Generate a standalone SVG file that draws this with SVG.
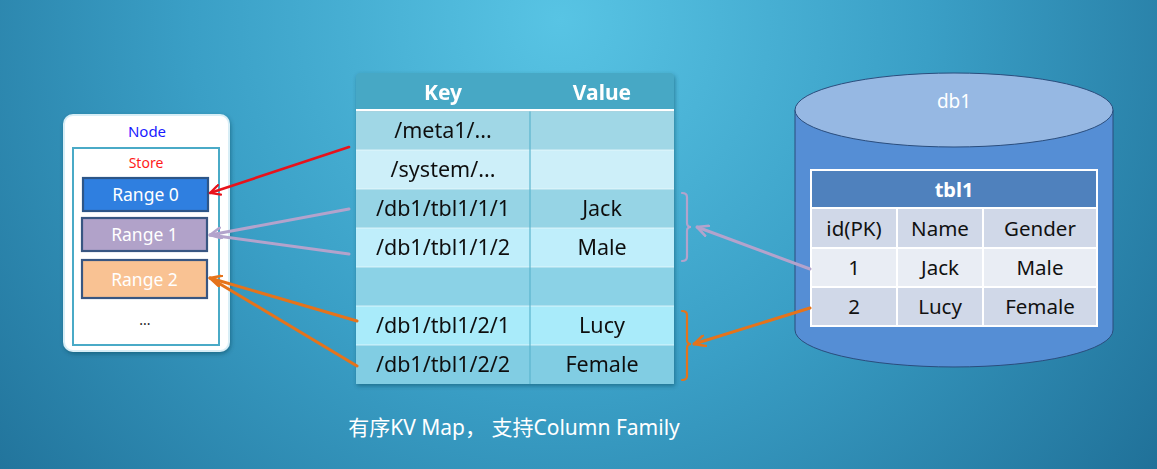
<svg xmlns="http://www.w3.org/2000/svg" width="1157" height="469" viewBox="0 0 1157 469">
<defs>
<radialGradient id="bg" cx="560" cy="20" r="820" gradientUnits="userSpaceOnUse">
<stop offset="0" stop-color="#58c4e4"/>
<stop offset="0.45" stop-color="#3a9fc6"/>
<stop offset="1" stop-color="#1b6890"/>
</radialGradient>
<filter id="sh" x="-10%" y="-10%" width="130%" height="130%">
<feDropShadow dx="1" dy="2" stdDeviation="2" flood-color="#0b3850" flood-opacity="0.45"/>
</filter>
<marker id="mr" viewBox="0 0 12 12" refX="11" refY="6" markerWidth="12" markerHeight="12" markerUnits="userSpaceOnUse" orient="auto">
<path d="M1,1 L11,6 L1,11" fill="none" stroke="#e8121b" stroke-width="2.2" stroke-linecap="round" stroke-linejoin="round"/>
</marker>
<marker id="mp" viewBox="0 0 12 12" refX="11" refY="6" markerWidth="13" markerHeight="13" markerUnits="userSpaceOnUse" orient="auto">
<path d="M1,1 L11,6 L1,11" fill="none" stroke="#b3a3cc" stroke-width="2.4" stroke-linecap="round" stroke-linejoin="round"/>
</marker>
<marker id="mo" viewBox="0 0 12 12" refX="11" refY="6" markerWidth="13" markerHeight="13" markerUnits="userSpaceOnUse" orient="auto">
<path d="M1,1 L11,6 L1,11" fill="none" stroke="#e5731b" stroke-width="2.4" stroke-linecap="round" stroke-linejoin="round"/>
</marker>
</defs>
<style>
text{font-family:"Noto Sans","Open Sans","Liberation Sans",sans-serif;text-anchor:middle}
.kv{font-size:21.5px;fill:#111}
.hd{font-size:21px;font-weight:bold;fill:#fff}
.rg{font-size:17.5px;fill:#fff}
.tb{font-size:20.5px;fill:#111}
.sep{stroke:#e8f7fc;stroke-width:1.2;opacity:0.8}
.col{stroke:#5bb4cd;stroke-width:1.2}
.rng{stroke-width:2.2}
.conn{fill:none;stroke-linecap:round}
</style>
<rect x="0" y="0" width="1157" height="469" fill="url(#bg)"/>

<g id="node">
<rect x="64" y="115" width="165" height="236" rx="9" fill="#fff" stroke="#d8eef6" stroke-width="2" filter="url(#sh)"/>
<text x="147" y="137" style="font-size:15px;fill:#1a1aff">Node</text>
<rect x="73" y="148" width="146" height="197" fill="#fff" stroke="#4aaac7" stroke-width="2"/>
<text x="146" y="168" style="font-size:14px;fill:#ff1a1a">Store</text>
<g id="range0">
<rect class="rng" x="83" y="178" width="125" height="33" fill="#2f7fe0" stroke="#2d5688"/>
<text class="rg" x="145.5" y="201">Range 0</text>
</g>
<g id="range1">
<rect class="rng" x="82" y="218" width="125" height="33" fill="#b1a2c9" stroke="#385682"/>
<text class="rg" x="144.5" y="241">Range 1</text>
</g>
<g id="range2">
<rect class="rng" x="82" y="260" width="125" height="38" fill="#f9c293" stroke="#385682"/>
<text class="rg" x="144.5" y="286">Range 2</text>
</g>
<text x="145" y="325" style="font-size:14px;fill:#222">...</text>
</g>

<g id="kvtable" filter="url(#sh)">
<path d="M356,77 Q356,73 360,73 L670,73 Q674,73 674,77 L674,109 L356,109 Z" fill="#47a8c5"/>
<rect x="356" y="109" width="318" height="2.5" fill="#ffffff"/>
<rect x="356" y="111.5" width="318" height="38.5" fill="#a0d7e6"/>
<rect x="356" y="150" width="318" height="39" fill="#cdeff9"/>
<rect x="356" y="189" width="318" height="39" fill="#96d4e5"/>
<rect x="356" y="228" width="318" height="39" fill="#bfeefb"/>
<rect x="356" y="267" width="318" height="39" fill="#8bd2e6"/>
<rect x="356" y="306" width="318" height="39" fill="#a9ebfa"/>
<rect x="356" y="345" width="318" height="39" fill="#81cde3"/>
<line class="sep" x1="356" y1="150" x2="674" y2="150"/>
<line class="sep" x1="356" y1="189" x2="674" y2="189"/>
<line class="sep" x1="356" y1="228" x2="674" y2="228"/>
<line class="sep" x1="356" y1="267" x2="674" y2="267"/>
<line class="sep" x1="356" y1="306" x2="674" y2="306"/>
<line class="sep" x1="356" y1="345" x2="674" y2="345"/>
<line class="col" x1="530" y1="111.5" x2="530" y2="384"/>
<text class="hd" x="443" y="100">Key</text>
<text class="hd" x="602" y="100">Value</text>
<text class="kv" x="443" y="138">/meta1/...</text>
<text class="kv" x="443" y="177">/system/...</text>
<text class="kv" x="443" y="216">/db1/tbl1/1/1</text>
<text class="kv" x="602" y="216">Jack</text>
<text class="kv" x="443" y="255">/db1/tbl1/1/2</text>
<text class="kv" x="602" y="255">Male</text>
<text class="kv" x="443" y="333">/db1/tbl1/2/1</text>
<text class="kv" x="602" y="333">Lucy</text>
<text class="kv" x="443" y="372">/db1/tbl1/2/2</text>
<text class="kv" x="602" y="372">Female</text>
</g>

<g id="db1">
<path d="M795,110 L795,330 A159,37 0 0 0 1113,330 L1113,110 Z" fill="#558ed5" stroke="#2a4d7d" stroke-width="1"/>
<ellipse cx="954" cy="110" rx="159" ry="37" fill="#96b8e3" stroke="#2a4d7d" stroke-width="1"/>
<text x="954" y="108" style="font-size:19px;fill:#fff">db1</text>
</g>

<g id="tbl1">
<rect x="810" y="169" width="288" height="158" fill="#ffffff"/>
<rect x="812" y="171" width="284" height="36" fill="#4f81bd"/>
<rect x="812" y="209" width="84" height="38" fill="#d0d8e8"/>
<rect x="898" y="209" width="84" height="38" fill="#d0d8e8"/>
<rect x="984" y="209" width="112" height="38" fill="#d0d8e8"/>
<rect x="812" y="249" width="84" height="37" fill="#e9edf4"/>
<rect x="898" y="249" width="84" height="37" fill="#e9edf4"/>
<rect x="984" y="249" width="112" height="37" fill="#e9edf4"/>
<rect x="812" y="288" width="84" height="37" fill="#d0d8e8"/>
<rect x="898" y="288" width="84" height="37" fill="#d0d8e8"/>
<rect x="984" y="288" width="112" height="37" fill="#d0d8e8"/>
<text x="954" y="197" style="font-size:20px;font-weight:bold;fill:#fff">tbl1</text>
<text class="tb" x="854" y="236">id(PK)</text>
<text class="tb" x="940" y="236">Name</text>
<text class="tb" x="1040" y="236">Gender</text>
<text class="tb" x="854" y="275">1</text>
<text class="tb" x="940" y="275">Jack</text>
<text class="tb" x="1040" y="275">Male</text>
<text class="tb" x="854" y="314">2</text>
<text class="tb" x="940" y="314">Lucy</text>
<text class="tb" x="1040" y="314">Female</text>
</g>

<g id="connectors">
<line class="conn" x1="349" y1="147" x2="210" y2="193" stroke="#e8121b" stroke-width="2.6" marker-end="url(#mr)"/>
<line class="conn" x1="349" y1="209" x2="210" y2="235" stroke="#b3a3cc" stroke-width="3" marker-end="url(#mp)"/>
<line class="conn" x1="349" y1="254" x2="210" y2="235" stroke="#b3a3cc" stroke-width="3"/>
<line class="conn" x1="357" y1="321" x2="210" y2="278" stroke="#e5731b" stroke-width="3" marker-end="url(#mo)"/>
<line class="conn" x1="357" y1="366" x2="210" y2="278" stroke="#e5731b" stroke-width="3"/>
<path class="conn" d="M682,193 Q687,193 687,197 L687,223 Q687,227 691,227 Q687,227 687,231 L687,257 Q687,261 682,261" stroke="#b3a3cc" stroke-width="2.2"/>
<path class="conn" d="M682,311 Q687,311 687,315 L687,340 Q687,344 691,344 Q687,344 687,348 L687,376 Q687,380 682,380" stroke="#e5731b" stroke-width="2.2"/>
<line class="conn" x1="810" y1="269" x2="697" y2="227" stroke="#b3a3cc" stroke-width="3" marker-end="url(#mp)"/>
<line class="conn" x1="810" y1="308" x2="694" y2="344" stroke="#e5731b" stroke-width="3" marker-end="url(#mo)"/>
</g>

<text x="514" y="435" style="font-family:'Noto Sans','Noto Sans CJK SC',sans-serif;font-size:21px;fill:#fff">有序KV Map， 支持Column Family</text>
</svg>
